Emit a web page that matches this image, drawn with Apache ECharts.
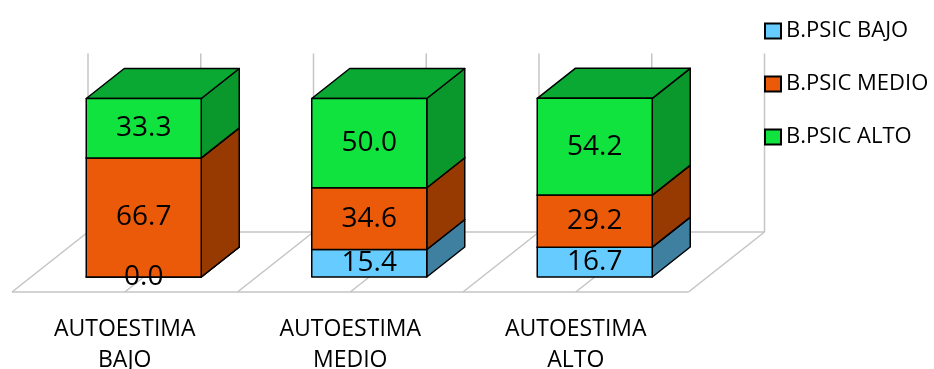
<!DOCTYPE html>
<html>
<head>
<meta charset="utf-8">
<script src="https://cdn.jsdelivr.net/npm/echarts@6/dist/echarts.min.js"></script>
<style>
  html, body { margin: 0; padding: 0; background: #fff; }
  #chart { width: 934px; height: 369px; }
</style>
</head>
<body>
<div id="chart"></div>
<script>
// datos
const categories = ['AUTOESTIMA\nBAJO', 'AUTOESTIMA\nMEDIO', 'AUTOESTIMA\nALTO'];
const seriesNames = ['B.PSIC BAJO', 'B.PSIC MEDIO', 'B.PSIC ALTO'];
const psicBajo = [0.0, 15.4, 16.7];
const psicMedio = [66.7, 34.6, 29.2];
const psicAlto = [33.3, 50.0, 54.2];
const valueMax = 100;

// colores de cada cara (frente, lateral, tapa)
const palette = [
  { front: '#66ccff', side: '#3f80a1', top: '#55aad6' },
  { front: '#eb5a09', side: '#973a02', top: '#c04a06' },
  { front: '#10e33e', side: '#0a982d', top: '#0aa934' }
];

// profundidad de la perspectiva 3D (px)
const FLOOR_DX = 76;
const FLOOR_DY = -60;
const BAR_DX = FLOOR_DX / 2;
const BAR_DY = FLOOR_DY / 2;
const BAR_RATIO = 0.51;
const FONT = '"Open Sans", "Noto Sans", sans-serif';

// apilar series
const stackData = [psicBajo, psicMedio, psicAlto];
const bases = categories.map(() => 0);
const stacked = stackData.map(values => {
  return values.map((v, i) => {
    const item = [i, bases[i], bases[i] + v, v];
    bases[i] += v;
    return item;
  });
});

// suelo y pared del fondo
const renderFloor = (params, api) => {
  const cat = api.value(0);
  const c = api.coord([cat, 0]);
  const wallTop = api.coord([cat, valueMax])[1] + FLOOR_DY;
  const band = api.size([1, 0])[0];
  const left = c[0] - band / 2;
  const right = c[0] + band / 2;
  const yF = c[1];
  const yB = c[1] + FLOOR_DY;
  const style = { stroke: '#c4c4c4', lineWidth: 1.5 };
  const xs = [left, c[0]];
  if (cat === categories.length - 1) xs.push(right);

  const children = [
    { type: 'line', shape: { x1: left, y1: yF, x2: right, y2: yF }, style },
    { type: 'line', shape: { x1: left + FLOOR_DX, y1: yB, x2: right + FLOOR_DX, y2: yB }, style }
  ];
  xs.forEach(x => {
    children.push({ type: 'line', shape: { x1: x, y1: yF, x2: x + FLOOR_DX, y2: yB }, style });
    children.push({ type: 'line', shape: { x1: x + FLOOR_DX, y1: yB, x2: x + FLOOR_DX, y2: wallTop }, style });
  });
  return { type: 'group', children };
};

// barra 3D
const makeBarRenderer = colors => (params, api) => {
  const cat = api.value(0);
  const p0 = api.coord([cat, api.value(1)]);
  const p1 = api.coord([cat, api.value(2)]);
  const band = api.size([1, 0])[0];
  const w = band * BAR_RATIO;
  const x0 = p0[0] - w / 2 + FLOOR_DX / 4;
  const x1 = x0 + w;
  const yb = p0[1] + FLOOR_DY / 4;
  const yt = p1[1] + FLOOR_DY / 4;
  const border = { stroke: '#000', lineWidth: 1.5, lineJoin: 'round' };
  return {
    type: 'group',
    children: [
      {
        type: 'polygon',
        shape: { points: [[x1, yb], [x1 + BAR_DX, yb + BAR_DY], [x1 + BAR_DX, yt + BAR_DY], [x1, yt]] },
        style: Object.assign({ fill: colors.side }, border)
      },
      {
        type: 'polygon',
        shape: { points: [[x0, yt], [x1, yt], [x1 + BAR_DX, yt + BAR_DY], [x0 + BAR_DX, yt + BAR_DY]] },
        style: Object.assign({ fill: colors.top }, border)
      },
      {
        type: 'rect',
        shape: { x: x0, y: yt, width: w, height: yb - yt },
        style: Object.assign({ fill: colors.front }, border)
      },
      {
        type: 'text',
        z2: 100,
        style: {
          text: api.value(3).toFixed(1),
          x: (x0 + x1) / 2,
          y: (yb + yt) / 2,
          align: 'center',
          verticalAlign: 'middle',
          fontSize: 28,
          fontFamily: FONT,
          fill: '#000'
        }
      }
    ]
  };
};

const chart = echarts.init(document.getElementById('chart'));

const option = {
  animation: false,
  backgroundColor: '#fff',
  grid: {
    left: 12,
    top: 113.5,
    width: 676.5,
    bottom: 77,
    containLabel: false,
    outerBoundsMode: 'none'
  },
  legend: {
    orient: 'vertical',
    left: 759,
    top: 15,
    itemWidth: 16,
    itemHeight: 15,
    itemGap: 31,
    textStyle: { fontSize: 22, fontFamily: FONT, color: '#000', lineHeight: 20 },
    data: seriesNames.map((name, i) => ({
      name,
      icon: 'rect',
      itemStyle: { color: palette[i].front, borderColor: '#000', borderWidth: 2 }
    }))
  },
  xAxis: {
    type: 'category',
    data: categories,
    axisLine: { show: false },
    axisTick: { show: false },
    splitLine: { show: false },
    axisLabel: {
      fontSize: 23,
      fontFamily: FONT,
      color: '#000',
      lineHeight: 31,
      margin: 22
    }
  },
  yAxis: {
    type: 'value',
    min: 0,
    max: valueMax,
    show: false
  },
  series: [
    {
      type: 'custom',
      name: 'suelo',
      z: 1,
      clip: false,
      silent: true,
      renderItem: renderFloor,
      encode: { x: 0 },
      data: categories.map((c, i) => [i])
    }
  ].concat(seriesNames.map((name, i) => ({
    type: 'custom',
    name,
    z: 2,
    clip: false,
    itemStyle: { color: palette[i].front, borderColor: '#000' },
    renderItem: makeBarRenderer(palette[i]),
    encode: { x: 0, y: [1, 2] },
    data: stacked[i]
  })))
};

chart.setOption(option);
window.addEventListener('resize', () => chart.resize());
</script>
</body>
</html>
